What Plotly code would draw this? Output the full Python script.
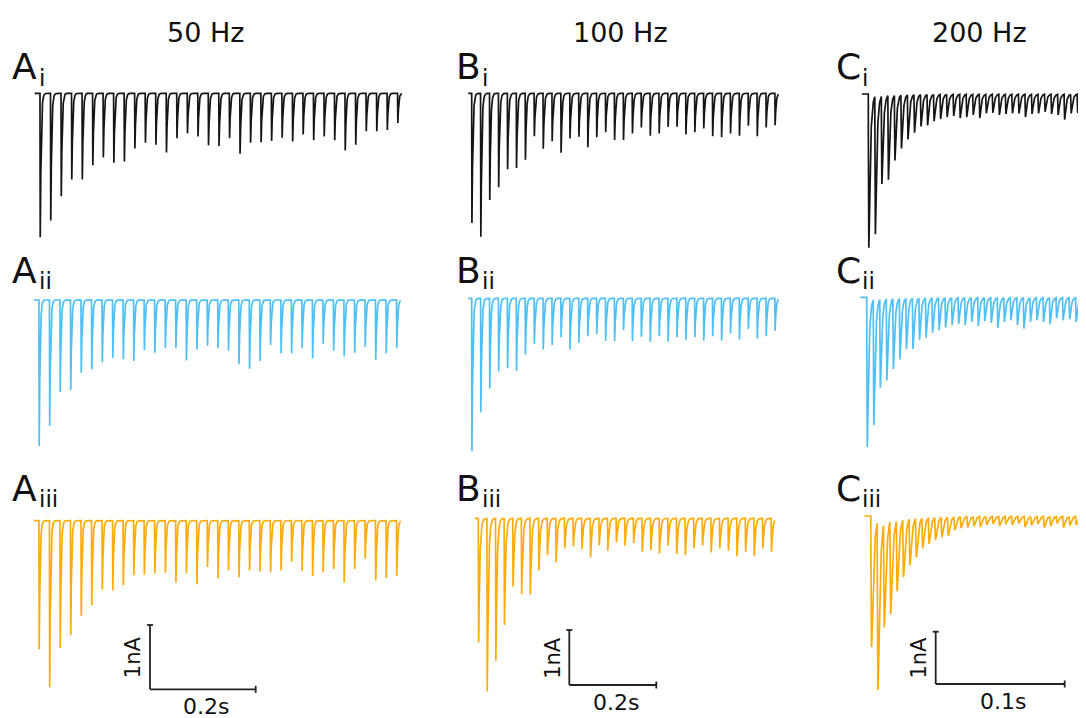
import numpy as np
import plotly.graph_objects as go

W, H = 1086, 718

# ---------------- data: peak EPSC amplitudes (nA) ----------------
amp_Ai = [2.24, 1.98, 1.60, 1.34, 1.34, 1.12, 1.00, 1.08, 1.06, 0.86, 0.77, 0.80, 0.92, 0.70, 0.62,
          0.67, 0.81, 0.82, 0.70, 0.94, 0.77, 0.76, 0.74, 0.69, 0.75, 0.64, 0.73, 0.67, 0.73, 0.89,
          0.80, 0.59, 0.59, 0.57, 0.46]
amp_Aii = [2.27, 1.96, 1.43, 1.40, 1.13, 1.08, 0.97, 0.90, 0.92, 0.95, 0.78, 0.82, 0.75, 0.75, 0.94,
           0.77, 0.71, 0.75, 0.79, 1.00, 1.07, 0.95, 0.70, 0.83, 0.83, 0.75, 0.91, 0.68, 0.79, 0.88,
           0.82, 0.73, 0.93, 0.83, 0.75]
amp_Aiii = [2.00, 2.59, 1.98, 1.78, 1.48, 1.32, 1.07, 1.08, 1.00, 0.85, 0.84, 0.82, 0.81, 0.96, 0.82,
            0.99, 0.72, 0.90, 0.77, 0.88, 0.77, 0.79, 0.80, 0.77, 0.64, 0.78, 0.86, 0.80, 0.75, 0.96,
            0.75, 0.59, 0.93, 0.89, 0.86]
amp_Bi = [2.36, 2.61, 1.94, 1.71, 1.38, 1.36, 1.21, 0.78, 1.01, 0.87, 1.08, 0.82, 0.79, 0.98, 0.80,
          0.71, 0.85, 0.85, 0.73, 0.62, 0.77, 0.73, 0.61, 0.61, 0.75, 0.71, 0.64, 0.78, 0.80, 0.73,
          0.77, 0.59, 0.78, 0.62, 0.58]
amp_Bii = [2.78, 2.07, 1.64, 1.33, 1.27, 1.32, 1.02, 0.83, 0.93, 0.85, 0.71, 0.93, 0.81, 0.69, 0.65,
           0.77, 0.78, 0.58, 0.78, 0.70, 0.79, 0.69, 0.79, 0.71, 0.76, 0.71, 0.77, 0.69, 0.77, 0.64,
           0.75, 0.56, 0.73, 0.69, 0.59]
amp_Biii = [2.26, 3.15, 2.59, 1.94, 1.24, 1.38, 1.39, 0.95, 0.67, 0.80, 0.55, 0.51, 0.56, 0.71, 0.49,
            0.59, 0.44, 0.50, 0.45, 0.61, 0.58, 0.64, 0.50, 0.65, 0.67, 0.55, 0.50, 0.62, 0.55, 0.59,
            0.69, 0.61, 0.69, 0.55, 0.61]
amp_Ci = [2.94, 2.68, 1.72, 1.64, 1.27, 1.04, 0.87, 0.74, 0.62, 0.60, 0.52, 0.48, 0.44, 0.42, 0.46,
          0.44, 0.40, 0.46, 0.37, 0.36, 0.40, 0.38, 0.37, 0.37, 0.44, 0.38, 0.37, 0.34, 0.38, 0.40,
          0.49, 0.37, 0.36, 0.38]
amp_Cii = [2.87, 2.44, 1.73, 1.59, 1.37, 1.19, 0.99, 0.99, 0.81, 0.77, 0.68, 0.63, 0.58, 0.53, 0.51,
           0.53, 0.47, 0.55, 0.46, 0.49, 0.58, 0.47, 0.44, 0.53, 0.60, 0.47, 0.44, 0.47, 0.51, 0.40,
           0.44, 0.42, 0.47, 0.44]
amp_Ciii = [2.51, 3.33, 2.13, 1.88, 1.44, 1.17, 0.94, 0.79, 0.62, 0.53, 0.46, 0.40, 0.38, 0.27, 0.23,
            0.22, 0.19, 0.21, 0.17, 0.15, 0.19, 0.15, 0.17, 0.14, 0.21, 0.18, 0.15, 0.22, 0.19, 0.14,
            0.22, 0.18, 0.17, 0.19]

# stimulus onset (s) and inter-stimulus interval (s) per panel, as drawn
onset_A = [0.0, -0.002, -0.002]
onset_B = [0.0, 0.0, 0.0152]
onset_C = [0.0, -0.0012, 0.0019]
isi_A = [0.0199, 0.0199, 0.0199]
isi_B = [0.0205, 0.0205, 0.0198]
isi_C = [0.00506, 0.00506, 0.00496]

col_titles = ["50 Hz", "100 Hz", "200 Hz"]
col_letters = ["A", "B", "C"]
row_subs = ["i", "ii", "iii"]
scale_time = [0.2, 0.2, 0.1]       # s
scale_time_lbl = ["0.2s", "0.2s", "0.1s"]
scale_amp = 1.0                    # nA

# ---------------- style / layout ----------------
OFF = 8  # page body margin of the html page (px)
row_colors = ["#151515", "#4FC0F5", "#FFAC0A"]
FONT = "DejaVu Sans"
amps = [[amp_Ai, amp_Aii, amp_Aiii], [amp_Bi, amp_Bii, amp_Biii], [amp_Ci, amp_Cii, amp_Ciii]]
onsets = [onset_A, onset_B, onset_C]
isis = [isi_A, isi_B, isi_C]
kin = [[(0.0002, 0.0015)] * 3,
       [(0.0002, 0.0020), (0.0002, 0.0020), (0.0003, 0.0025)],
       [(0.0002, 0.0011), (0.0002, 0.0011), (0.0003, 0.0014)]]
pre_post = [(0.010, 0.008), (0.008, 0.008), (0.005, 0.02)]

col_px = [(12, 430), (440, 830), (832, 1086)]
col_ref = [40.0, 471.7, 868.3]          # pixel of t = 0
pps = [528.5, 435.0, 1290.0]            # pixels per second
ppn = [64.3, 55.0, 52.3]                # pixels per nA
row_px = [(80, 258), (283, 463), (505, 705)]
base_px = [[93.3, 300.0, 520.7], [93.3, 298.3, 518.3], [94.0, 297.3, 516.0]]


def px_x(p):
    return (p - OFF) / W


def px_y(p):
    return 1 - (p - OFF) / H


def kernel(s, tr, td):
    spk = tr * td / (td - tr) * np.log(td / tr)
    gmax = np.exp(-spk / td) - np.exp(-spk / tr)
    sc = np.clip(s, 0, None)
    out = (np.exp(-sc / td) - np.exp(-sc / tr)) / gmax
    return np.where(s >= 0, out, 0.0), spk


def build_trace(peaks, t0, isi, tr, td, pre, post, dt=0.00004):
    peaks = np.asarray(peaks, float)
    n = len(peaks)
    ts = t0 + isi * np.arange(n)
    _, spk = kernel(np.array([0.0]), tr, td)
    A = np.zeros(n)
    for k in range(n):
        g, _ = kernel(ts[k] + spk - ts[:k], tr, td)
        resid = np.sum(A[:k] * g)
        A[k] = max(peaks[k] - resid, 0.0)
    t = np.arange(ts[0] - pre, ts[-1] + post, dt)
    y = np.zeros_like(t)
    for k in range(n):
        g, _ = kernel(t - ts[k], tr, td)
        y -= A[k] * g
    return t, y


fig = go.Figure()
layout_axes = {}
for c in range(3):
    x0, x1 = col_px[c]
    for r in range(3):
        idx = c * 3 + r + 1
        y0, y1 = row_px[r]
        base = base_px[c][r]
        tr, td = kin[c][r]
        t, y = build_trace(amps[c][r], onsets[c][r], isis[c][r], tr, td, *pre_post[c])
        xa = "x" if idx == 1 else f"x{idx}"
        ya = "y" if idx == 1 else f"y{idx}"
        fig.add_trace(go.Scatter(x=t, y=y, mode="lines", xaxis=xa, yaxis=ya,
                                 line=dict(color=row_colors[r], width=1.7),
                                 hoverinfo="skip", showlegend=False))
        kx = "xaxis" if idx == 1 else f"xaxis{idx}"
        ky = "yaxis" if idx == 1 else f"yaxis{idx}"
        layout_axes[kx] = dict(domain=[px_x(x0), min(px_x(x1), 1.0)],
                               range=[(x0 - col_ref[c]) / pps[c],
                                      (min(x1, W + OFF) - col_ref[c]) / pps[c]],
                               visible=False, fixedrange=True, anchor=ya)
        layout_axes[ky] = dict(domain=[px_y(y1), px_y(y0)],
                               range=[-(y1 - base) / ppn[c], (base - y0) / ppn[c]],
                               visible=False, fixedrange=True, anchor=xa)

fig.update_layout(**layout_axes)

annotations = []
shapes = []
# column titles
title_cx = [205, 620, 979]
for c in range(3):
    annotations.append(dict(text=col_titles[c], x=px_x(title_cx[c]), y=px_y(32), xref="paper", yref="paper",
                            showarrow=False, xanchor="center", yanchor="middle",
                            font=dict(family=FONT, size=27, color="#111")))
# panel labels
letter_x = [10, 454, 834]
sub_x = [37, 480, 860]
label_cy = [67, 270, 488]
for c in range(3):
    for r in range(3):
        annotations.append(dict(text=col_letters[c], x=px_x(letter_x[c]), y=px_y(label_cy[r]),
                                xref="paper", yref="paper", showarrow=False, xanchor="left",
                                yanchor="middle", font=dict(family=FONT, size=36, color="#111")))
        annotations.append(dict(text=row_subs[r], x=px_x(sub_x[c]), y=px_y(label_cy[r] + 11),
                                xref="paper", yref="paper", showarrow=False, xanchor="left",
                                yanchor="middle", font=dict(family=FONT, size=23, color="#111")))

# scale bars (drawn in the row-iii axes data units)
bar_corner_px = [(150.0, 689.3), (569.3, 685.0), (935.7, 684.0)]
for c in range(3):
    idx = c * 3 + 3
    xa, ya = f"x{idx}", f"y{idx}"
    bx_px, by_px = bar_corner_px[c]
    base = base_px[c][2]
    bx = (bx_px - col_ref[c]) / pps[c]
    by = -(by_px - base) / ppn[c]
    capx = 3.0 / pps[c]
    capy = 3.5 / ppn[c]
    lw = dict(color="#222", width=1.8)
    shapes += [
        dict(type="line", xref=xa, yref=ya, x0=bx, x1=bx, y0=by, y1=by + scale_amp, line=lw),
        dict(type="line", xref=xa, yref=ya, x0=bx, x1=bx + scale_time[c], y0=by, y1=by, line=lw),
        dict(type="line", xref=xa, yref=ya, x0=bx - capx, x1=bx + capx, y0=by + scale_amp,
             y1=by + scale_amp, line=lw),
        dict(type="line", xref=xa, yref=ya, x0=bx + scale_time[c], x1=bx + scale_time[c],
             y0=by - capy, y1=by + capy, line=lw),
    ]
    annotations.append(dict(text="1nA", x=bx, y=by + scale_amp / 2, xref=xa, yref=ya,
                            xshift=-17, showarrow=False, textangle=-90, xanchor="center",
                            yanchor="middle", font=dict(family=FONT, size=21, color="#111")))
    annotations.append(dict(text=scale_time_lbl[c], x=bx + scale_time[c] / 2, y=by, xref=xa, yref=ya,
                            yshift=-3, xshift=3, showarrow=False, xanchor="center", yanchor="top",
                            font=dict(family=FONT, size=22, color="#111")))

fig.update_layout(width=W, height=H, margin=dict(l=0, r=0, t=0, b=0),
                  paper_bgcolor="white", plot_bgcolor="white",
                  annotations=annotations, shapes=shapes, showlegend=False)
fig.write_html("out.html")
